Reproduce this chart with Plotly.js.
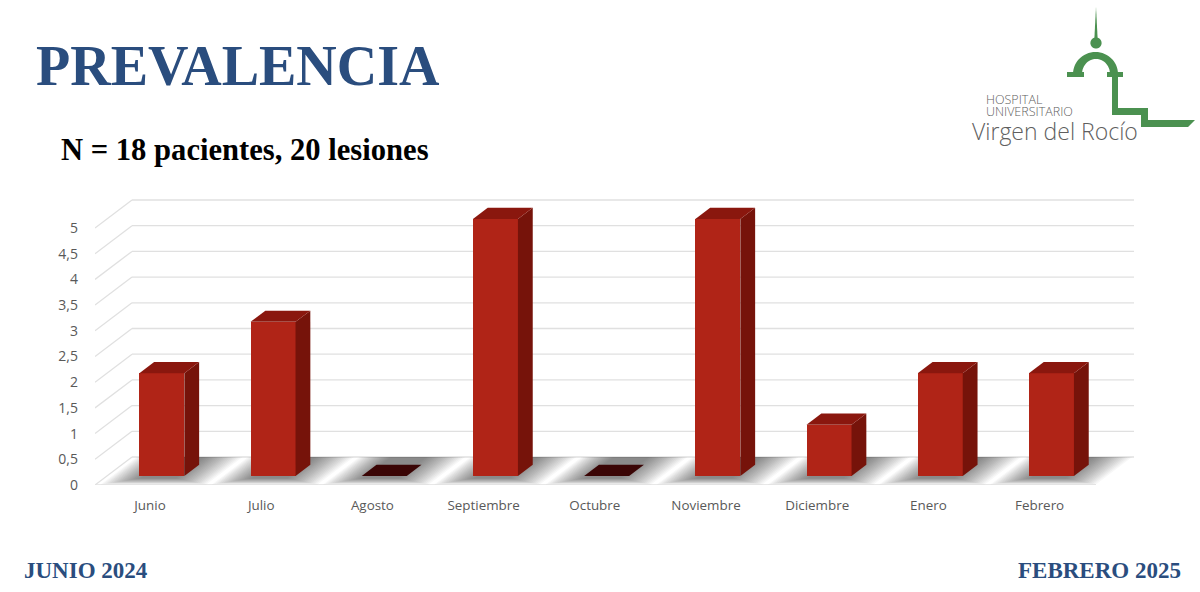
<!DOCTYPE html>
<html><head><meta charset="utf-8">
<script src="https://cdn.plot.ly/plotly-3.0.1.min.js"></script>
<style>html,body{margin:0;padding:0;background:#fff}#c{width:1200px;height:592px}</style></head>
<body><div id="c"></div>
<script>
const months=["Junio","Julio","Agosto","Septiembre","Octubre","Noviembre","Diciembre","Enero","Febrero"];
const lesions=[2,3,0,5,0,5,1,2,2];
const yTicks=[0,0.5,1,1.5,2,2.5,3,3.5,4,4.5,5];

// plot area in pixels and the scale of the axes
const L=95,R=1134,B=485,T=190,PXI=111.2,PXV=51.4,I0=150;
const DX=37/PXI,DY=28/PXV;             // receding depth of the pseudo-3D box
const D1=0.32,D2=0.72,HW=22.5/PXI;     // bar depth range, half width
const P=(i,v,d)=>[i+d*DX,v+d*DY];
const poly=pts=>pts.map((p,k)=>(k?'L':'M')+p[0]+','+p[1]).join(' ')+' Z';
const xs=pts=>pts.map(p=>p[0]).concat(pts[0][0]);
const ys=pts=>pts.map(p=>p[1]).concat(pts[0][1]);

const shapes=[];
// grid and walls
const xEnd=(R-I0)/PXI, xStart=(L-I0)/PXI, xFront=(1096-I0)/PXI;
const gridC='#e0e0e0';
yTicks.forEach(v=>{
  const a=[xStart,v],b=P(xStart,v,1),c=[xEnd,v+DY];
  shapes.push({type:'line',layer:'below',xref:'x',yref:'y',x0:a[0],y0:a[1],x1:b[0],y1:b[1],line:{color:gridC,width:1.3}});
  shapes.push({type:'line',layer:'below',xref:'x',yref:'y',x0:b[0],y0:b[1],x1:c[0],y1:c[1],line:{color:gridC,width:1.3}});
});
shapes.push({type:'line',layer:'below',xref:'x',yref:'y',x0:xStart,y0:0,x1:xFront,y1:0,line:{color:gridC,width:1.3}});
// soft floor shadow of every bar, a stack of nested translucent slanted bands
const nS=18;
lesions.forEach((v,i)=>{
  for(let k=0;k<nS;k++){
    const t=k/(nS-1);
    const wL=-0.45+0.28*t, wR=0.50-0.34*t, d0=0.02+0.22*t;
    shapes.push({type:'path',layer:'below',xref:'x',yref:'y',line:{width:0},fillcolor:'#000',opacity:0.032,
      path:poly([P(i+wL,0,d0),P(i+wR,0,d0),P(i+wR,0,1),P(i+wL,0,1)])});
  }
});

// hospital logo, pixel positions mapped to the paper
const ppx=p=>[(p[0]-L)/(R-L),(B-p[1])/(B-T)];
const logo=pts=>shapes.push({type:'path',xref:'paper',yref:'paper',line:{width:0},fillcolor:'#4b9150',path:poly(pts.map(ppx))});
logo([[1096,7],[1097.6,38],[1094.4,38]]);
const ball=[];for(let a=0;a<40;a++)ball.push([1096+5.6*Math.cos(a*Math.PI/20),43+5.6*Math.sin(a*Math.PI/20)]);
logo(ball);
const arch=[];
for(let a=0;a<=30;a++)arch.push([1095.5-22.5*Math.cos(a*Math.PI/30),74-22*Math.sin(a*Math.PI/30)]);
for(let a=30;a>=0;a--)arch.push([1096-14*Math.cos(a*Math.PI/30),74-15*Math.sin(a*Math.PI/30)]);
logo(arch);
logo([[1067,72],[1084,72],[1084,77],[1067,77]]);
logo([[1107,72],[1123,72],[1123,77],[1107,77]]);
logo([[1112,77],[1118,77],[1118,108],[1148,108],[1148,120],[1195,120],[1188,127],[1141,127],[1141,115],[1112,115]]);

// bars
const xBar=months.map((m,i)=>i+D1*DX);
const base=D1*DY;
const traces=[{type:'bar',x:xBar,y:lesions,base:lesions.map(()=>base),width:2*HW,
  marker:{color:'#b02417',line:{width:0}},showlegend:false,hoverinfo:'y'}];
const face=(pts,c)=>traces.push({type:'scatter',mode:'lines',x:xs(pts),y:ys(pts),fill:'toself',fillcolor:c,
  line:{width:0,color:c},showlegend:false,hoverinfo:'skip'});
lesions.forEach((v,i)=>{
  const l=i-HW,r=i+HW;
  if(v>0) face([P(r,0,D1),P(r,0,D2),P(r,v,D2),P(r,v,D1)],'#76130a');
  face([P(l,v,D1),P(r,v,D1),P(r,v,D2),P(l,v,D2)],v>0?'#8a170e':'#3a0505');
});

const serif='"Liberation Serif",serif';
const ann=(text,x,y,size,color,anchor)=>({text:text,xref:'paper',yref:'paper',x:(x-L)/(R-L),y:(B-y)/(B-T),
  xanchor:anchor||'left',yanchor:'middle',showarrow:false,borderpad:0,font:{family:serif,size:size,color:color,weight:700}});
const BLUE='#2a4d7e';
const sans=(text,x,y,size,w)=>({text:text,xref:'paper',yref:'paper',x:(x-L)/(R-L),y:(B-y)/(B-T),xanchor:'left',yanchor:'middle',
  showarrow:false,borderpad:0,font:{family:'"Open Sans",sans-serif',size:size,color:'#5f5f5f',weight:w}});

const layout={
  width:1200,height:592,separators:',.',paper_bgcolor:'#fff',plot_bgcolor:'rgba(0,0,0,0)',
  margin:{l:L,r:1200-R,t:T,b:592-B,pad:0},showlegend:false,hovermode:false,bargap:0,
  title:{text:'PREVALENCIA',xref:'container',yref:'container',x:36/1200,xanchor:'left',y:1-65/592,yanchor:'middle',
    font:{family:serif,size:56,color:BLUE,weight:700}},
  xaxis:{range:[xStart,xEnd],tickmode:'array',tickvals:months.map((m,i)=>i),ticktext:months,showgrid:false,zeroline:false,
    showline:false,ticks:'',ticklen:0,tickfont:{family:'"Open Sans",sans-serif',size:13.4,color:'#595959'},automargin:false,ticklabelstandoff:11},
  yaxis:{range:[0,(B-T)/PXV],tickmode:'array',tickvals:yTicks,ticktext:yTicks.map(v=>String(v).replace('.',',')),showgrid:false,zeroline:false,
    showline:false,ticks:'',tickfont:{family:'"Open Sans",sans-serif',size:14,color:'#595959'},automargin:false,ticklabelstandoff:16},
  shapes:shapes,
  annotations:[
    ann('N = 18 pacientes, 20 lesiones',60,150,30.6,'#000'),
    ann('JUNIO 2024',23,570,23,BLUE),
    ann('FEBRERO 2025',1182,570,23,BLUE,'right'),
    sans('HOSPITAL',985,100,12.5,300),
    sans('UNIVERSITARIO',985,112,12.5,300),
    sans('Virgen del Rocío',971,131,23,300)
  ]
};
Plotly.newPlot('c',traces,layout,{displayModeBar:false,responsive:false});
</script></body></html>
